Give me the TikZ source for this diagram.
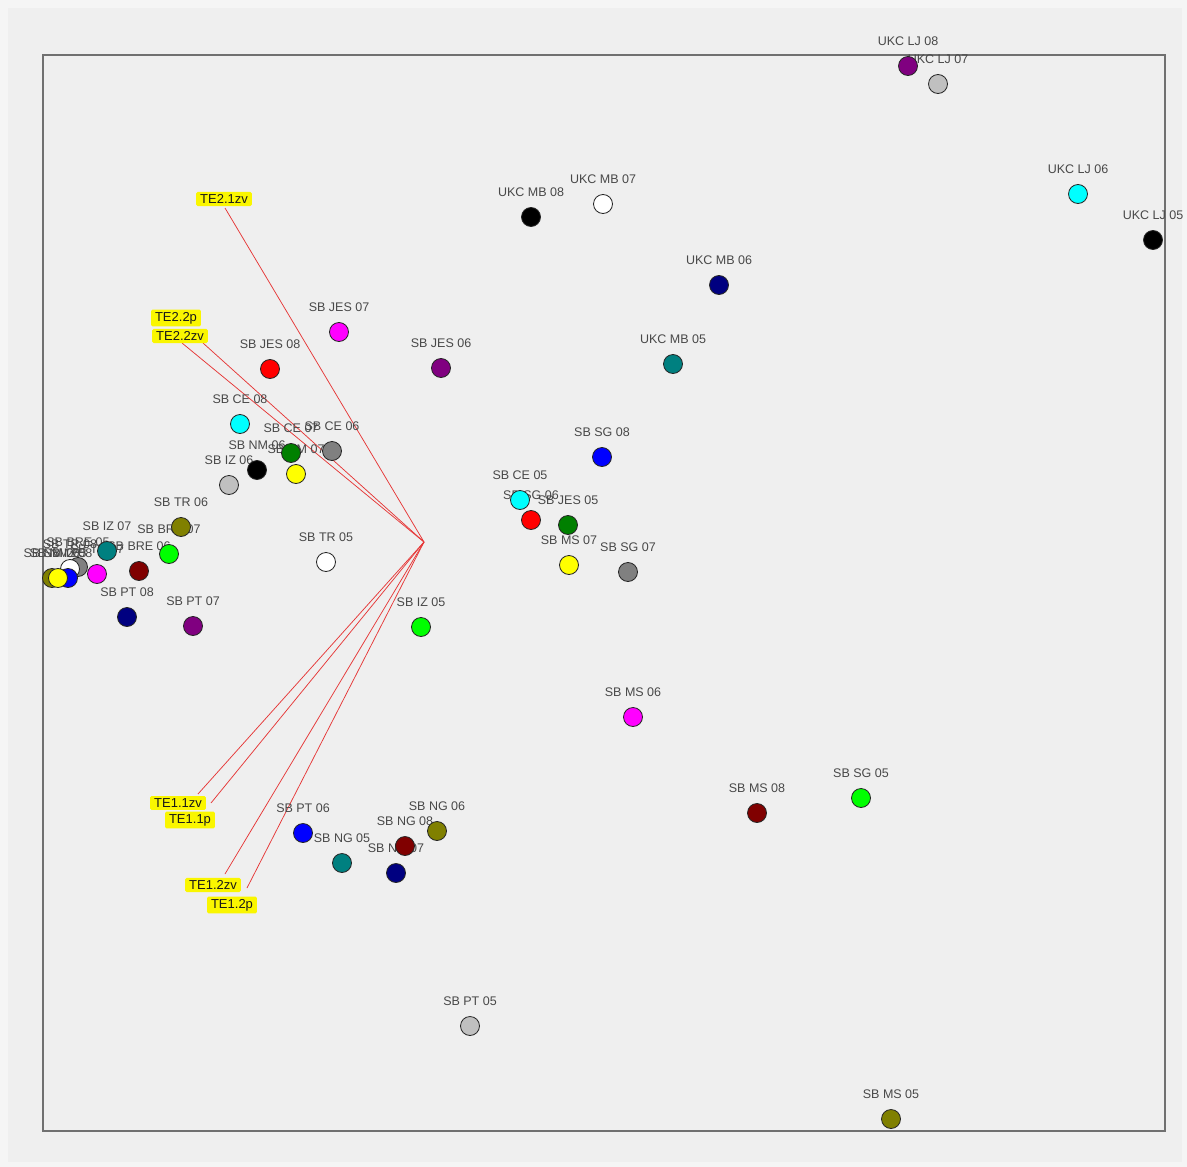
\documentclass[tikz,border=0pt]{standalone}
\usepackage{fontspec}
\setmainfont{Liberation Sans}
\definecolor{bgc}{RGB}{239,239,239}
\definecolor{edgec}{RGB}{245,245,245}
\definecolor{framec}{RGB}{112,112,112}
\definecolor{labc}{RGB}{72,72,72}
\definecolor{vecc}{RGB}{230,55,55}
\definecolor{hil}{RGB}{250,246,0}
\definecolor{cNavy}{RGB}{0,0,128}
\definecolor{cTeal}{RGB}{0,128,128}
\definecolor{cPurple}{RGB}{128,0,128}
\definecolor{cOlive}{RGB}{128,128,0}
\definecolor{cMaroon}{RGB}{128,0,0}
\definecolor{cLime}{RGB}{0,255,0}
\definecolor{cGreen}{RGB}{0,128,0}
\definecolor{cSilver}{RGB}{192,192,192}
\definecolor{cGray}{RGB}{128,128,128}
\definecolor{cBlue}{RGB}{0,0,255}
\definecolor{cRed}{RGB}{255,0,0}
\definecolor{cYellow}{RGB}{255,255,0}
\definecolor{cCyan}{RGB}{0,255,255}
\definecolor{cMagenta}{RGB}{255,0,255}
\definecolor{cBlack}{RGB}{0,0,0}
\definecolor{cWhite}{RGB}{255,255,255}
\tikzset{
  dot/.style={circle, draw=black!85, line width=0.8pt, minimum size=19pt, inner sep=0pt},
  lab/.style={text=labc, font=\fontsize{12.5}{13}\selectfont, inner sep=0pt},
  telab/.style={fill=hil, rounded corners=1.5pt, text=black!90, font=\fontsize{13}{13}\selectfont, inner xsep=4pt, inner ysep=2.5pt},
  vec/.style={draw=vecc, line width=0.75pt},
}
\begin{document}
\begin{tikzpicture}[x=1pt,y=-1pt]
% canvas and plot frame
\fill[edgec] (0,0) rectangle (1187,1167);
\fill[bgc] (8,8) rectangle (1182,1162);
\useasboundingbox (0,0) rectangle (1187,1167);
\draw[framec, line width=1.5pt] (43,55) rectangle (1165,1131);

% direction vectors from the origin of the biplot
\coordinate (o) at (424,542);
\coordinate (e1) at (225,208);
\coordinate (e2) at (182,343);
\coordinate (e3) at (203,343);
\coordinate (e4) at (198,794);
\coordinate (e5) at (211,803);
\coordinate (e6) at (225,874);
\coordinate (e7) at (247,888);
\foreach \k in {1,...,7} \draw[vec] (o) -- (e\k);

% sample points: x / y / fill / label
\def\samples{
 908/66/cPurple/UKC LJ 08,
 938/84/cSilver/UKC LJ 07,
 1078/194/cCyan/UKC LJ 06,
 1153/240/cBlack/UKC LJ 05,
 531/217/cBlack/UKC MB 08,
 603/204/cWhite/UKC MB 07,
 719/285/cNavy/UKC MB 06,
 673/364/cTeal/UKC MB 05,
 339/332/cMagenta/SB JES 07,
 441/368/cPurple/SB JES 06,
 270/369/cRed/SB JES 08,
 240/424/cCyan/SB CE 08,
 291/453/cGreen/SB CE 07,
 332/451/cGray/SB CE 06,
 257/470/cBlack/SB NM 06,
 296/474/cYellow/SB NM 07,
 229/485/cSilver/SB IZ 06,
 181/527/cOlive/SB TR 06,
 169/554/cLime/SB BRE 07,
 139/571/cMaroon/SB BRE 06,
 107/551/cTeal/SB IZ 07,
 97/574/cMagenta/SB TR 07,
 78/567/cGray/SB BRE 05,
 70/569/cWhite/SB TR 08,
 52/578/cOlive/SB NM 08,
 68/578/cBlue/SB IZ 08,
 58/578/cYellow/SB NM 05,
 326/562/cWhite/SB TR 05,
 127/617/cNavy/SB PT 08,
 193/626/cPurple/SB PT 07,
 602/457/cBlue/SB SG 08,
 531/520/cRed/SB SG 06,
 520/500/cCyan/SB CE 05,
 568/525/cGreen/SB JES 05,
 569/565/cYellow/SB MS 07,
 628/572/cGray/SB SG 07,
 421/627/cLime/SB IZ 05,
 633/717/cMagenta/SB MS 06,
 757/813/cMaroon/SB MS 08,
 861/798/cLime/SB SG 05,
 303/833/cBlue/SB PT 06,
 342/863/cTeal/SB NG 05,
 405/846/cMaroon/SB NG 08,
 437/831/cOlive/SB NG 06,
 396/873/cNavy/SB NG 07,
 470/1026/cSilver/SB PT 05,
 891/1119/cOlive/SB MS 05}
\foreach \px/\py/\pc/\pt [count=\i] in \samples
  \node[lab] (l\i) at (\px,\py-25) {\pt};
\foreach \px/\py/\pc/\pt [count=\i] in \samples
  \node[dot, fill=\pc] (p\i) at (\px,\py) {};

% variable labels
\node[telab] (t1) at (224,199) {TE2.1zv};
\node[telab] (t2) at (176,318) {TE2.2p};
\node[telab] (t3) at (180,336) {TE2.2zv};
\node[telab] (t4) at (178,803) {TE1.1zv};
\node[telab] (t5) at (190,820) {TE1.1p};
\node[telab] (t6) at (213,885) {TE1.2zv};
\node[telab] (t7) at (232,905) {TE1.2p};
\end{tikzpicture}
\end{document}
